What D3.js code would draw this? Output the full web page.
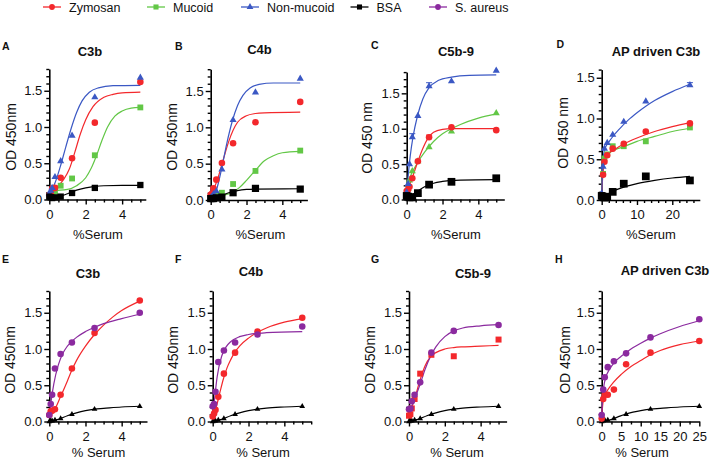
<!DOCTYPE html>
<html><head><meta charset="utf-8">
<script src="https://cdn.jsdelivr.net/npm/d3@7"></script>
<style>body{margin:0;background:#fff} svg{display:block}</style>
</head><body>
<svg id="c" width="712" height="461"></svg>
<script>
// ---------------- DATA ----------------
const doses   = [0, 0.078, 0.156, 0.3125, 0.625, 1.25, 2.5, 5];
const dosesAP = [0, 0.39, 0.78, 1.56, 3.125, 6.25, 12.5, 25];

const legendNames = ["Zymosan", "Mucoid", "Non-mucoid", "BSA", "S. aureus"];

const titles = ["C3b", "C4b", "C5b-9", "AP driven C3b", "C3b", "C4b", "C5b-9", "AP driven C3b"];
const panelLetters = ["A", "B", "C", "D", "E", "F", "G", "H"];
const yLabels = ["OD 450nm", "OD 450nm", "OD 450 nm", "OD 450 nm", "OD 450nm", "OD 450nm", "OD 450nm", "OD 450nm"];
const xLabels = ["%Serum", "%Serum", "%Serum", "%Serum", "% Serum", "% Serum", "% Serum", "% Serum"];

const xTicksSmall = [0, 2, 4];
const xTicksAP = [0, 10, 20];
const xTicksAP2 = [0, 5, 10, 15, 20, 25];
const yTicks18 = [0, 0.5, 1.0, 1.5];

// Panel A
const A_zymosan   = [0.06, 0.08, 0.15, 0.16, 0.30, 0.57, 1.06, 1.62];
const A_mucoid    = [0.05, 0.07, 0.08, 0.11, 0.19, 0.29, 0.61, 1.27];
const A_nonmucoid = [0.08, 0.12, 0.16, 0.31, 0.53, 0.88, 1.41, 1.68];
const A_bsa       = [0.04, 0.03, 0.02, 0.03, 0.04, 0.09, 0.16, 0.20];
const A_zymosanFit   = [[0,0.13],[0.4,0.17],[0.8,0.28],[1.1,0.42],[1.4,0.65],[1.7,0.9],[2,1.1],[2.4,1.28],[3,1.41],[3.5,1.45],[4,1.47],[5,1.48]];
const A_mucoidFit    = [[0,0.12],[1,0.14],[1.5,0.19],[2,0.3],[2.3,0.43],[2.6,0.61],[2.9,0.82],[3.2,1.0],[3.6,1.15],[4,1.22],[4.5,1.26],[5,1.27]];
const A_nonmucoidFit = [[0,0.09],[0.3,0.22],[0.6,0.45],[0.9,0.72],[1.2,0.98],[1.5,1.2],[1.8,1.36],[2.2,1.48],[2.7,1.54],[3.5,1.57],[5,1.575]];
const A_bsaFit       = [[0,0.03],[0.5,0.04],[1,0.08],[1.5,0.13],[2,0.16],[2.5,0.18],[3,0.19],[4,0.195],[5,0.195]];

// Panel B
const B_zymosan   = [0.07, 0.09, 0.16, 0.28, 0.51, 0.78, 1.07, 1.35];
const B_mucoid    = [0.03, 0.04, 0.06, 0.07, 0.10, 0.22, 0.40, 0.68];
const B_nonmucoid = [0.03, 0.05, 0.08, 0.12, 0.42, 1.10, 1.48, 1.67];
const B_bsa       = [0.02, 0.02, 0.02, 0.03, 0.04, 0.10, 0.16, 0.15];
const B_zymosanFit   = [[0,0.07],[0.2,0.17],[0.4,0.3],[0.6,0.47],[0.8,0.64],[1,0.8],[1.25,0.96],[1.5,1.07],[2,1.16],[2.5,1.19],[3,1.2],[5,1.21]];
const B_mucoidFit    = [[0,0.05],[0.8,0.07],[1.25,0.11],[1.6,0.17],[2,0.27],[2.5,0.41],[3,0.54],[3.5,0.61],[4,0.65],[5,0.67]];
const B_nonmucoidFit = [[0,0.0],[0.3,0.12],[0.6,0.42],[0.9,0.78],[1.2,1.08],[1.5,1.3],[1.8,1.44],[2.2,1.54],[2.7,1.59],[3.5,1.61],[5,1.61]];
const B_bsaFit       = [[0,0.02],[0.5,0.05],[1,0.1],[1.5,0.13],[2,0.145],[2.5,0.15],[5,0.155]];

// Panel C
const C_zymosan   = [0.12, 0.14, 0.18, 0.30, 0.54, 0.88, 1.02, 0.98];
const C_mucoid    = [0.10, 0.15, 0.27, 0.40, 0.54, 0.74, 0.96, 1.22];
const C_nonmucoid = [0.10, 0.22, 0.50, 0.88, 1.18, 1.60, 1.67, 1.82];
const C_bsa       = [0.05, 0.04, 0.03, 0.03, 0.09, 0.21, 0.25, 0.30];
const C_zymosanFit   = [[0,0.1],[0.3,0.3],[0.6,0.52],[0.9,0.72],[1.2,0.87],[1.5,0.95],[2,0.99],[2.5,1.0],[5,1.0]];
const C_mucoidFit    = [[0,0.2],[0.3,0.38],[0.6,0.52],[1,0.67],[1.5,0.82],[2,0.93],[2.5,1.0],[3,1.06],[4,1.15],[5,1.21]];
const C_nonmucoidFit = [[0,0.1],[0.1,0.38],[0.2,0.62],[0.35,0.88],[0.6,1.18],[0.9,1.42],[1.25,1.58],[1.75,1.68],[2.5,1.73],[3.5,1.755],[5,1.76]];
const C_bsaFit       = [[0,0.03],[0.5,0.1],[1,0.18],[1.5,0.23],[2,0.255],[2.5,0.27],[3,0.275],[5,0.28]];
const C_errNonmucoid = [[0.3125, 0.93], [1.25, 1.65]];
const C_errZymosan   = [[1.25, 0.91]];

// Panel D
const D_zymosan   = [0.06, 0.31, 0.47, 0.55, 0.63, 0.69, 0.84, 0.94];
const D_mucoid    = [0.05, 0.32, 0.51, 0.56, 0.66, 0.66, 0.72, 0.89];
const D_nonmucoid = [0.08, 0.41, 0.63, 0.70, 0.80, 0.96, 1.21, 1.41];
const D_bsa       = [0.05, 0.04, 0.03, 0.04, 0.10, 0.20, 0.29, 0.24];
const D_zymosanFit   = [[0,0.05],[0.3,0.3],[0.7,0.46],[1.2,0.52],[2,0.57],[4,0.63],[6,0.68],[10,0.76],[15,0.84],[20,0.9],[25,0.95]];
const D_mucoidFit    = [[0,0.05],[0.3,0.33],[0.7,0.48],[1.2,0.53],[2,0.57],[4,0.62],[6,0.65],[10,0.72],[15,0.78],[20,0.84],[25,0.88]];
const D_nonmucoidFit = [[0,0.05],[0.3,0.42],[0.7,0.6],[1.2,0.66],[2,0.71],[3,0.77],[5,0.87],[7.5,0.98],[10,1.07],[12.5,1.15],[15,1.22],[20,1.33],[25,1.42]];
const D_bsaFit       = [[0,0.02],[2,0.08],[5,0.14],[10,0.2],[15,0.24],[20,0.27],[25,0.29]];
const D_errNonmucoid = [[25, 1.44]];

// Panel E
const E_zymosan = [0.09, 0.14, 0.15, 0.17, 0.37, 0.73, 1.22, 1.67];
const E_saureus = [0.09, 0.24, 0.37, 0.73, 0.93, 1.09, 1.29, 1.50];
const E_bsa     = [0.00, 0.01, 0.01, 0.02, 0.04, 0.10, 0.17, 0.21];
const E_zymosanFit = [[0,0.1],[0.3,0.17],[0.6,0.33],[1,0.56],[1.25,0.71],[1.5,0.84],[2,1.04],[2.5,1.2],[3,1.33],[3.5,1.44],[4,1.53],[5,1.66]];
const E_saureusFit = [[0,0.05],[0.1,0.28],[0.25,0.52],[0.5,0.78],[0.75,0.94],[1,1.04],[1.5,1.16],[2,1.24],[2.5,1.3],[3,1.35],[4,1.42],[5,1.48]];
const E_bsaFit     = [[0,0.01],[0.5,0.03],[1,0.08],[1.5,0.12],[2,0.15],[2.5,0.17],[3,0.18],[4,0.2],[5,0.21]];

// Panel F
const F_zymosan = [0.07, 0.11, 0.16, 0.34, 0.66, 0.95, 1.24, 1.43];
const F_saureus = [0.21, 0.24, 0.41, 0.82, 0.98, 1.09, 1.20, 1.31];
const F_bsa     = [0.00, 0.01, 0.01, 0.02, 0.04, 0.10, 0.17, 0.21];
const F_zymosanFit = [[0,0.05],[0.2,0.2],[0.4,0.4],[0.6,0.59],[0.8,0.74],[1,0.85],[1.25,0.96],[1.5,1.04],[2,1.15],[2.5,1.23],[3,1.29],[4,1.37],[5,1.42]];
const F_saureusFit = [[0,0.05],[0.1,0.3],[0.25,0.62],[0.5,0.9],[0.75,1.03],[1,1.1],[1.5,1.17],[2,1.2],[3,1.225],[5,1.24]];
const F_bsaFit     = [[0,0.01],[0.5,0.03],[1,0.08],[1.5,0.12],[2,0.15],[2.5,0.17],[3,0.185],[4,0.2],[5,0.21]];

// Panel G
const G_zymosan = [0.08, 0.10, 0.18, 0.31, 0.66, 0.92, 0.90, 1.13];
const G_saureus = [0.17, 0.18, 0.28, 0.37, 0.54, 0.95, 1.25, 1.33];
const G_bsa     = [0.00, 0.01, 0.01, 0.02, 0.04, 0.10, 0.17, 0.21];
const G_zymosanFit = [[0,0.1],[0.3,0.3],[0.6,0.56],[0.9,0.77],[1.2,0.89],[1.5,0.95],[2,1.0],[2.5,1.02],[3,1.03],[4,1.04],[5,1.05]];
const G_saureusFit = [[0,0.12],[0.3,0.3],[0.6,0.5],[0.9,0.72],[1.2,0.9],[1.5,1.03],[2,1.17],[2.5,1.25],[3,1.29],[4,1.32],[5,1.335]];
const G_bsaFit     = [[0,0.01],[0.5,0.03],[1,0.08],[1.5,0.12],[2,0.15],[2.5,0.17],[3,0.185],[4,0.2],[5,0.21]];

// Panel H
const H_zymosan = [0.04, 0.31, 0.37, 0.37, 0.44, 0.79, 0.95, 1.11];
const H_saureus = [0.09, 0.44, 0.61, 0.75, 0.83, 0.94, 1.16, 1.41];
const H_bsa     = [0.00, 0.01, 0.02, 0.02, 0.04, 0.10, 0.17, 0.21];
const H_zymosanFit = [[0,0.05],[0.3,0.25],[0.6,0.32],[1,0.38],[2,0.47],[3,0.54],[5,0.65],[7.5,0.76],[10,0.84],[12.5,0.92],[15,0.98],[20,1.06],[25,1.11]];
const H_saureusFit = [[0,0.05],[0.2,0.3],[0.5,0.47],[1,0.6],[2,0.72],[3,0.8],[5,0.9],[7.5,1.0],[10,1.08],[12.5,1.15],[15,1.21],[20,1.31],[25,1.39]];
const H_bsaFit     = [[0,0],[2,0.02],[4,0.06],[6,0.1],[8,0.13],[10,0.15],[12.5,0.17],[15,0.18],[20,0.2],[25,0.21]];

// ---------------- STYLE / LAYOUT ----------------
const COL = {red:"#f3282c", green:"#62c746", blue:"#3b58c4", black:"#000000", purple:"#8b2a9f"};
const FONT = "'Liberation Sans', Arial, Helvetica, sans-serif";

const legendItems = [
  {name: legendNames[0], color: COL.red,    sym: "circle",   cx: 52},
  {name: legendNames[1], color: COL.green,  sym: "square",   cx: 156},
  {name: legendNames[2], color: COL.blue,   sym: "triangle", cx: 250},
  {name: legendNames[3], color: COL.black,  sym: "square",   cx: 359.5},
  {name: legendNames[4], color: COL.purple, sym: "circle",   cx: 438}
];

function S(color, sym, size, xs, ys, fit, err){ return {color, sym, size, xs, ys, fit, err}; }

const panels = [
  {x0:49.3, x1:145.8, xmax:5.3, y0:199.5, y1:69, ymax:1.8, xT:xTicksSmall, xMinor:0.5, yT:yTicks18, yMinor:0.1,
   letter:[2,50], title:[90,56], ylab:[11,137], xlab:[98,239],
   series:[S(COL.green,"square",34,doses,A_mucoid,A_mucoidFit), S(COL.red,"circle",34,doses,A_zymosan,A_zymosanFit),
           S(COL.blue,"triangle",22,doses,A_nonmucoid,A_nonmucoidFit), S(COL.black,"square",40,doses,A_bsa,A_bsaFit)]},
  {x0:210.7, x1:307.4, xmax:5.4, y0:200, y1:69.2, ymax:1.8, xT:xTicksSmall, xMinor:0.5, yT:yTicks18, yMinor:0.1,
   letter:[175,49.5], title:[259.5,54], ylab:[172,137], xlab:[260.5,239],
   series:[S(COL.green,"square",34,doses,B_mucoid,B_mucoidFit), S(COL.red,"circle",34,doses,B_zymosan,B_zymosanFit),
           S(COL.blue,"triangle",22,doses,B_nonmucoid,B_nonmucoidFit), S(COL.black,"square",52,doses,B_bsa,B_bsaFit)]},
  {x0:406.7, x1:504.3, xmax:5.45, y0:199.5, y1:72.1, ymax:1.8, xT:xTicksSmall, xMinor:0.5, yT:yTicks18, yMinor:0.1,
   letter:[371,49], title:[456,56], ylab:[367,138], xlab:[456,239],
   series:[S(COL.green,"triangle",22,doses,C_mucoid,C_mucoidFit), S(COL.red,"circle",34,doses,C_zymosan,C_zymosanFit,C_errZymosan),
           S(COL.blue,"triangle",22,doses,C_nonmucoid,C_nonmucoidFit,C_errNonmucoid), S(COL.black,"square",60,doses,C_bsa,C_bsaFit)]},
  {x0:601.7, x1:699.8, xmax:27.8, y0:200, y1:69.6, ymax:1.6, xT:xTicksAP, xMinor:2, yT:yTicks18, yMinor:0.1,
   letter:[556.5,48], title:[656,56], ylab:[563,133], xlab:[651,239],
   series:[S(COL.green,"square",34,dosesAP,D_mucoid,D_mucoidFit), S(COL.red,"circle",34,dosesAP,D_zymosan,D_zymosanFit),
           S(COL.blue,"triangle",22,dosesAP,D_nonmucoid,D_nonmucoidFit,D_errNonmucoid), S(COL.black,"square",60,dosesAP,D_bsa,D_bsaFit)]},
  {x0:49.3, x1:147, xmax:5.4, y0:421.5, y1:291, ymax:1.8, xT:xTicksSmall, xMinor:0.5, yT:yTicks18, yMinor:0.1,
   letter:[2,263], title:[88,277.5], ylab:[10,360], xlab:[98.5,457],
   series:[S(COL.black,"triangle",14,doses,E_bsa,E_bsaFit), S(COL.red,"circle",34,doses,E_zymosan,E_zymosanFit),
           S(COL.purple,"circle",34,doses,E_saureus,E_saureusFit)]},
  {x0:212.7, x1:311.2, xmax:5.5, y0:421.5, y1:291, ymax:1.8, xT:xTicksSmall, xMinor:0.5, yT:yTicks18, yMinor:0.1,
   letter:[175,263], title:[251,276], ylab:[173,360], xlab:[263,457],
   series:[S(COL.black,"triangle",14,doses,F_bsa,F_bsaFit), S(COL.red,"circle",34,doses,F_zymosan,F_zymosanFit),
           S(COL.purple,"circle",34,doses,F_saureus,F_saureusFit)]},
  {x0:409, x1:506.6, xmax:5.45, y0:421.5, y1:291, ymax:1.8, xT:xTicksSmall, xMinor:0.5, yT:yTicks18, yMinor:0.1,
   letter:[371,263], title:[473,278], ylab:[369.5,360], xlab:[457,457],
   series:[S(COL.black,"triangle",14,doses,G_bsa,G_bsaFit), S(COL.red,"square",36,doses,G_zymosan,G_zymosanFit),
           S(COL.purple,"circle",34,doses,G_saureus,G_saureusFit)]},
  {x0:601.7, x1:699.3, xmax:25, y0:421.5, y1:291, ymax:1.8, xT:xTicksAP2, xMinor:2.5, yT:yTicks18, yMinor:0.1,
   letter:[555,263], title:[665,275], ylab:[564.5,360], xlab:[642,457],
   series:[S(COL.black,"triangle",14,dosesAP,H_bsa,H_bsaFit), S(COL.red,"circle",34,dosesAP,H_zymosan,H_zymosanFit),
           S(COL.purple,"circle",34,dosesAP,H_saureus,H_saureusFit)]}
];

// ---------------- DRAW ----------------
const svg = d3.select("#c");
const symType = t => t === "circle" ? d3.symbolCircle : t === "square" ? d3.symbolSquare : d3.symbolTriangle;
const minorVals = (max, step, majors) => d3.range(0, max + 1e-9, step).map(v => +v.toFixed(4))
  .filter(v => !majors.some(m => Math.abs(m - v) < 1e-6));

// legend
const lg = svg.append("g").attr("class", "legend");
legendItems.forEach(it => {
  lg.append("line").attr("x1", it.cx - 9).attr("x2", it.cx + 9).attr("y1", 7).attr("y2", 7)
    .attr("stroke", it.color).attr("stroke-width", 1.3);
  lg.append("path").attr("d", d3.symbol().type(symType(it.sym)).size(it.sym === "triangle" ? 20 : 26)())
    .attr("transform", `translate(${it.cx},7)`).attr("fill", it.color);
  lg.append("text").attr("x", it.cx + 17).attr("y", 11.5).text(it.name)
    .attr("font-family", FONT).attr("font-size", 12.5).attr("fill", "#111");
});

panels.forEach((p, i) => {
  const x = d3.scaleLinear().domain([0, p.xmax]).range([p.x0, p.x1]);
  const y = d3.scaleLinear().domain([0, p.ymax]).range([p.y0, p.y1]);
  const g = svg.append("g").attr("class", "panel");

  // x axis
  const xa = g.append("g").attr("transform", `translate(0,${p.y0})`);
  xa.call(d3.axisBottom(x).tickValues(p.xT).tickSize(5).tickPadding(5).tickSizeOuter(0).tickFormat(d3.format("d")));
  xa.append("g").call(d3.axisBottom(x).tickValues(minorVals(p.xmax, p.xMinor, p.xT)).tickSize(3).tickSizeOuter(0).tickFormat(""))
    .select(".domain").remove();
  // y axis
  const ya = g.append("g").attr("transform", `translate(${p.x0},0)`);
  ya.call(d3.axisLeft(y).tickValues(p.yT).tickSize(5).tickPadding(2).tickSizeOuter(0).tickFormat(d3.format(".1f")));
  ya.append("g").call(d3.axisLeft(y).tickValues(minorVals(p.ymax, p.yMinor, p.yT)).tickSize(3).tickSizeOuter(0).tickFormat(""))
    .select(".domain").remove();
  [xa, ya].forEach(a => {
    a.selectAll(".domain").attr("stroke", "#000").attr("stroke-width", 1.6);
    a.selectAll(".tick line").attr("stroke", "#000").attr("stroke-width", 1.4);
    a.selectAll("text").attr("font-family", FONT).attr("font-size", 13).attr("fill", "#111");
  });

  // fit curves
  const line = d3.line().x(d => x(d[0])).y(d => y(d[1])).curve(d3.curveMonotoneX);
  p.series.forEach(s => {
    g.append("path").attr("d", line(s.fit)).attr("fill", "none").attr("stroke", s.color).attr("stroke-width", 1.2);
  });
  // error bars
  p.series.forEach(s => {
    (s.err || []).forEach(e => {
      const v = s.ys[s.xs.indexOf(e[0])];
      g.append("line").attr("x1", x(e[0])).attr("x2", x(e[0])).attr("y1", y(v)).attr("y2", y(e[1]))
        .attr("stroke", s.color).attr("stroke-width", 1);
      g.append("line").attr("x1", x(e[0]) - 3).attr("x2", x(e[0]) + 3).attr("y1", y(e[1])).attr("y2", y(e[1]))
        .attr("stroke", s.color).attr("stroke-width", 1);
    });
  });
  // markers
  p.series.forEach(s => {
    const sp = d3.symbol().type(symType(s.sym)).size(s.size)();
    g.append("g").selectAll("path").data(s.ys).join("path")
      .attr("d", sp)
      .attr("transform", (v, k) => `translate(${x(s.xs[k])},${y(v)})`)
      .attr("fill", s.color);
  });

  // texts
  g.append("text").attr("x", p.letter[0]).attr("y", p.letter[1]).text(panelLetters[i])
    .attr("font-family", FONT).attr("font-size", 10.5).attr("font-weight", "bold").attr("fill", "#111");
  g.append("text").attr("x", p.title[0]).attr("y", p.title[1]).text(titles[i]).attr("text-anchor", "middle")
    .attr("font-family", FONT).attr("font-size", 13).attr("font-weight", "bold").attr("fill", "#111");
  g.append("text").attr("transform", `translate(${p.ylab[0]},${p.ylab[1]}) rotate(-90)`).attr("dy", "0.36em")
    .attr("text-anchor", "middle").text(yLabels[i])
    .attr("font-family", FONT).attr("font-size", 14).attr("fill", "#111");
  g.append("text").attr("x", p.xlab[0]).attr("y", p.xlab[1]).text(xLabels[i]).attr("text-anchor", "middle")
    .attr("font-family", FONT).attr("font-size", 13).attr("fill", "#111");
});
</script>
</body></html>
